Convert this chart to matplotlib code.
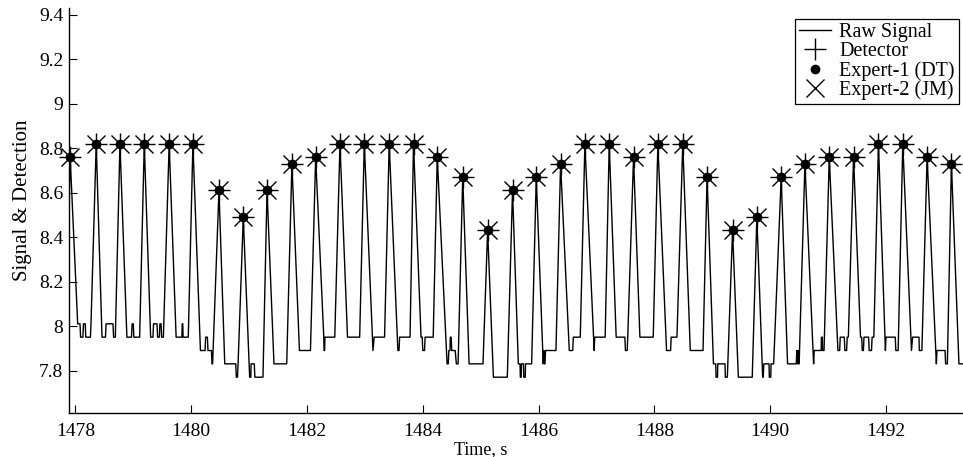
import numpy as np
import matplotlib
matplotlib.use("Agg")
from matplotlib import pyplot as plt

# detected beats (detector and both experts mark the same peaks)
peak_t = [1477.91, 1478.36, 1478.77, 1479.19, 1479.62, 1480.03, 1480.48, 1480.90,
          1481.31, 1481.74, 1482.15, 1482.57, 1482.99, 1483.42, 1483.84, 1484.25,
          1484.69, 1485.12, 1485.55, 1485.96, 1486.38, 1486.80, 1487.22, 1487.64,
          1488.06, 1488.49, 1488.91, 1489.35, 1489.77, 1490.19, 1490.60, 1491.02,
          1491.44, 1491.87, 1492.29, 1492.71, 1493.13]
peak_v = [8.76, 8.82, 8.82, 8.82, 8.82, 8.82, 8.61, 8.49,
          8.61, 8.73, 8.76, 8.82, 8.82, 8.82, 8.82, 8.76,
          8.67, 8.43, 8.61, 8.67, 8.73, 8.82, 8.82, 8.76,
          8.82, 8.82, 8.67, 8.43, 8.49, 8.67, 8.73, 8.76,
          8.76, 8.82, 8.82, 8.76, 8.73]
detector_t, detector_v = peak_t, peak_v
expert1_t, expert1_v = peak_t, peak_v
expert2_t, expert2_v = peak_t, peak_v

# raw signal: bottom part of each trough between two peaks, (time, value)
raw_start = [(1477.84, 7.95)]
troughs = [
    [(1478.04, 8.01), (1478.08, 8.01), (1478.09, 7.95), (1478.13, 7.95), (1478.14, 8.01),
     (1478.17, 8.01), (1478.18, 7.95), (1478.26, 7.95), (1478.27, 8.01)],
    [(1478.46, 7.95), (1478.52, 7.95), (1478.53, 8.01), (1478.65, 8.01), (1478.66, 7.95),
     (1478.69, 7.95)],
    [(1478.89, 7.95), (1478.97, 7.95), (1478.98, 8.01), (1479.00, 8.01), (1479.01, 7.95),
     (1479.11, 7.95)],
    [(1479.30, 7.95), (1479.34, 7.95), (1479.35, 8.01), (1479.41, 8.01), (1479.42, 7.95),
     (1479.45, 7.95), (1479.46, 8.01), (1479.48, 8.01), (1479.49, 7.95), (1479.52, 7.95)],
    [(1479.74, 7.95), (1479.84, 7.95), (1479.845, 8.01), (1479.855, 8.01), (1479.86, 7.95),
     (1479.95, 7.95)],
    [(1480.16, 7.89), (1480.24, 7.89), (1480.25, 7.95), (1480.28, 7.95), (1480.29, 7.89),
     (1480.35, 7.89), (1480.36, 7.83), (1480.37, 7.83)],
    [(1480.58, 7.83), (1480.77, 7.83), (1480.78, 7.77), (1480.80, 7.77), (1480.81, 7.83)],
    [(1481.01, 7.77), (1481.03, 7.77), (1481.035, 7.83), (1481.09, 7.83), (1481.10, 7.77),
     (1481.24, 7.77)],
    [(1481.43, 7.83), (1481.65, 7.83)],
    [(1481.87, 7.89), (1482.06, 7.89)],
    [(1482.29, 7.95), (1482.295, 7.89), (1482.305, 7.89), (1482.31, 7.95), (1482.48, 7.95)],
    [(1482.70, 7.95), (1482.91, 7.95)],
    [(1483.14, 7.89), (1483.16, 7.95), (1483.34, 7.95)],
    [(1483.57, 7.89), (1483.59, 7.89), (1483.60, 7.95), (1483.78, 7.95)],
    [(1483.97, 7.95), (1483.99, 7.95), (1484.00, 7.89), (1484.03, 7.89), (1484.04, 7.95),
     (1484.18, 7.95)],
    [(1484.42, 7.83), (1484.44, 7.83), (1484.45, 7.89), (1484.47, 7.89), (1484.475, 7.95),
     (1484.49, 7.95), (1484.50, 7.89), (1484.56, 7.89), (1484.58, 7.83), (1484.61, 7.83)],
    [(1484.80, 7.83), (1485.04, 7.83)],
    [(1485.22, 7.77), (1485.46, 7.77)],
    [(1485.65, 7.83), (1485.68, 7.83), (1485.685, 7.77), (1485.70, 7.77), (1485.705, 7.83),
     (1485.74, 7.83), (1485.745, 7.77), (1485.77, 7.77), (1485.775, 7.83), (1485.88, 7.83)],
    [(1486.08, 7.83), (1486.09, 7.89), (1486.10, 7.83), (1486.11, 7.83), (1486.12, 7.89),
     (1486.30, 7.89)],
    [(1486.53, 7.89), (1486.59, 7.89), (1486.60, 7.95), (1486.72, 7.95)],
    [(1486.96, 7.89), (1486.97, 7.95), (1487.15, 7.95)],
    [(1487.34, 7.95), (1487.49, 7.95), (1487.50, 7.89), (1487.53, 7.89), (1487.54, 7.95)],
    [(1487.75, 7.95), (1487.98, 7.95)],
    [(1488.21, 7.89), (1488.28, 7.89), (1488.29, 7.95), (1488.39, 7.95)],
    [(1488.62, 7.89), (1488.84, 7.89)],
    [(1489.02, 7.83), (1489.06, 7.83), (1489.065, 7.77), (1489.09, 7.77), (1489.095, 7.83),
     (1489.22, 7.83), (1489.225, 7.77), (1489.26, 7.77)],
    [(1489.45, 7.77), (1489.69, 7.77)],
    [(1489.87, 7.77), (1489.88, 7.77), (1489.89, 7.83), (1489.98, 7.83), (1489.985, 7.77),
     (1490.01, 7.77), (1490.015, 7.83), (1490.06, 7.83)],
    [(1490.30, 7.83), (1490.45, 7.83), (1490.46, 7.89), (1490.47, 7.83), (1490.48, 7.89),
     (1490.49, 7.83), (1490.50, 7.83)],
    [(1490.75, 7.83), (1490.76, 7.89), (1490.88, 7.89), (1490.885, 7.95), (1490.90, 7.95),
     (1490.905, 7.89), (1490.93, 7.89)],
    [(1491.16, 7.95), (1491.17, 7.89), (1491.20, 7.89), (1491.21, 7.95), (1491.28, 7.95),
     (1491.29, 7.89), (1491.32, 7.89), (1491.33, 7.95), (1491.35, 7.95)],
    [(1491.56, 7.95), (1491.58, 7.95), (1491.59, 7.89), (1491.61, 7.89), (1491.62, 7.95),
     (1491.70, 7.95), (1491.71, 7.89), (1491.75, 7.89), (1491.76, 7.95), (1491.79, 7.95)],
    [(1491.99, 7.89), (1492.00, 7.95), (1492.16, 7.95), (1492.17, 7.89), (1492.21, 7.89)],
    [(1492.44, 7.89), (1492.46, 7.95), (1492.57, 7.95), (1492.575, 7.89), (1492.62, 7.89)],
    [(1492.87, 7.83), (1492.88, 7.89), (1493.02, 7.89), (1493.03, 7.83), (1493.06, 7.83)],
]
raw_end = [(1493.26, 7.83), (1493.40, 7.83)]

yticks = [7.8, 8, 8.2, 8.4, 8.6, 8.8, 9, 9.2, 9.4]
xticks = [1478, 1480, 1482, 1484, 1486, 1488, 1490, 1492]

# assemble raw signal vertices
pts = list(raw_start)
for i in range(len(peak_t)):
    pts.append((peak_t[i], peak_v[i]))
    if i < len(troughs):
        pts.extend(troughs[i])
pts.extend(raw_end)
raw_t = np.array([p[0] for p in pts])
raw_v = np.array([p[1] for p in pts])

plt.rcParams['font.family'] = ['Liberation Serif', 'DejaVu Serif']
plt.rcParams['font.size'] = 14

fig = plt.figure(figsize=(9.63, 4.57), dpi=100)
ax = fig.add_axes([69/963, 44/457, 894/963, 405/457])

ax.plot(raw_t, raw_v, color='black', lw=1.0, label='Raw Signal')
ax.plot(detector_t, detector_v, ls='none', marker='+', ms=16, mew=1.0, color='black',
        clip_on=False, label='Detector')
ax.plot(expert1_t, expert1_v, ls='none', marker='o', ms=6, color='black',
        clip_on=False, label='Expert-1 (DT)')
ax.plot(expert2_t, expert2_v, ls='none', marker='x', ms=13, mew=1.0, color='black',
        clip_on=False, label='Expert-2 (JM)')

ax.set_xlim(1477.89, 1493.33)
ax.set_ylim(7.609, 9.43)
ax.set_xticks(xticks)
ax.set_yticks(yticks)
ax.set_yticklabels(['%g' % v for v in yticks])
ax.tick_params(direction='in', length=6, width=0.8, colors='black', labelsize=14)
ax.tick_params(axis='x', pad=7)
ax.tick_params(axis='y', pad=4)
ax.spines['top'].set_visible(False)
ax.spines['right'].set_visible(False)
ax.spines['left'].set_linewidth(1.0)
ax.spines['bottom'].set_linewidth(1.0)

ax.set_xlabel('Time, s', fontsize=13)
ax.xaxis.set_label_coords(0.461, -0.07)
ax.set_ylabel('Signal & Detection', fontsize=15)
ax.yaxis.set_label_coords(-0.041, 0.526)

leg = ax.legend(loc='upper right', bbox_to_anchor=(959/963, 438/457),
                bbox_transform=fig.transFigure, borderaxespad=0, fancybox=False,
                edgecolor='black', framealpha=1, handlelength=1.6, handletextpad=0.4,
                labelspacing=-0.01, borderpad=0.2, markerscale=1.0, fontsize=14.5)
leg.get_frame().set_linewidth(0.9)

fig.savefig('out.png', dpi=100)
